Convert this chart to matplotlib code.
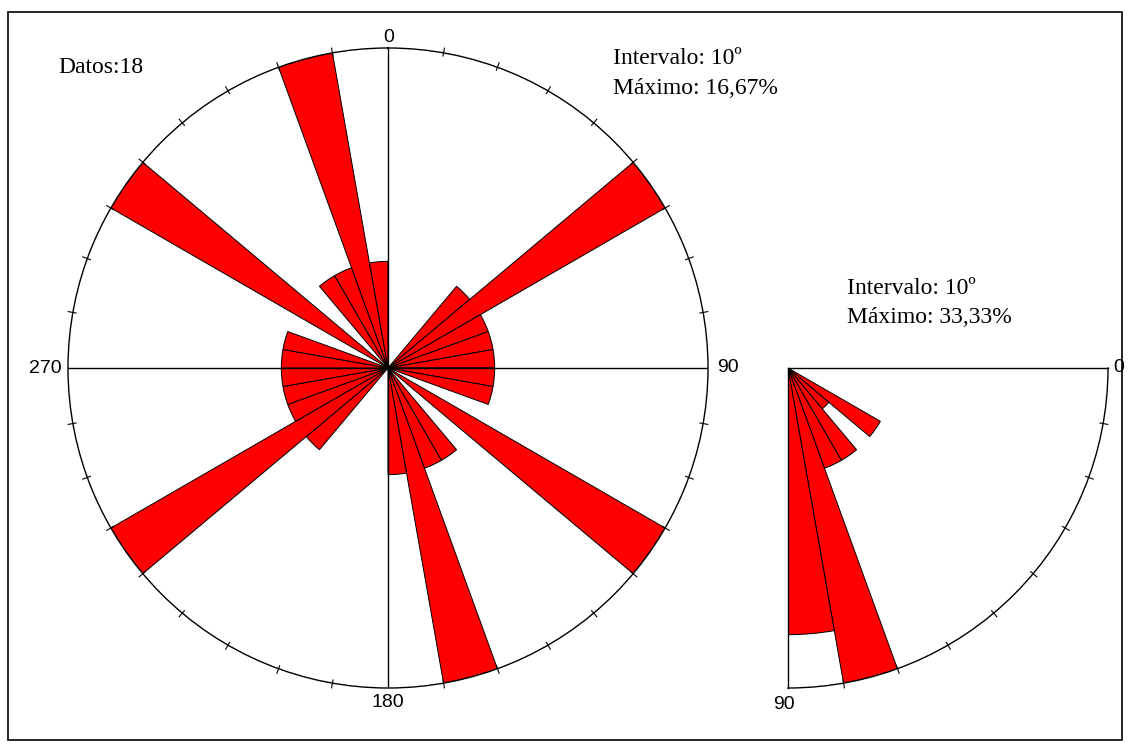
import numpy as np
import matplotlib
matplotlib.use('Agg')
import matplotlib.pyplot as plt

# rose diagram data (10 degree classes, 18 measurements)
n_data = 18
interval = 10

# strike classes (0-180, mirrored to 180-360) and counts
strike_bins = [40, 50, 60, 70, 80, 90, 100, 120, 140, 150, 160, 170]
strike_counts = [1, 3, 1, 1, 1, 1, 1, 3, 1, 1, 3, 1]

# dip classes (0-90) and counts
dip_bins = [30, 40, 50, 60, 70, 80]
dip_counts = [2, 1, 2, 2, 6, 5]

W, H = 1130, 748
serif = ['Liberation Serif', 'DejaVu Serif']
sans = ['Liberation Sans', 'DejaVu Sans']

strike_pct = np.array(strike_counts) / n_data * 100
dip_pct = np.array(dip_counts) / n_data * 100
strike_max = strike_pct.max()
dip_max = dip_pct.max()

fig = plt.figure(figsize=(W / 100, H / 100), dpi=100)
fig.patch.set_facecolor('white')

# frame around the whole picture
fig.add_artist(plt.Rectangle((8 / W, 8 / H), 1114 / W, 728 / H, transform=fig.transFigure,
                             fill=False, edgecolor='black', linewidth=1.2))


def style_polar(ax, rmax, tick_angles):
    ax.set_ylim(0, rmax)
    ax.set_yticks([])
    ax.yaxis.grid(False)
    ax.tick_params(axis='x', which='major', direction='out', length=6, width=1, color='black')
    ax.spines['polar'].set_linewidth(1)
    ax.spines['polar'].set_color('black')
    # small ticks every 10 degrees on the outer circle
    for a in tick_angles:
        t = np.radians(a)
        ax.plot([t, t], [rmax * 0.99, rmax * 1.015], color='black', lw=0.8,
                clip_on=False, zorder=5)


# left: strike rose, full circle, bidirectional
ax1 = fig.add_axes([68 / W, 60 / H, 640 / W, 640 / H], projection='polar')
ax1.set_theta_zero_location('N')
ax1.set_theta_direction(-1)
theta = np.radians(np.concatenate([strike_bins, np.array(strike_bins) + 180]) + interval / 2)
heights = np.concatenate([strike_pct, strike_pct])
ax1.bar(theta, heights, width=np.radians(interval), color='#ff0000',
        edgecolor='black', linewidth=0.7, align='center')
style_polar(ax1, strike_max, [a for a in range(10, 360, 10) if a % 90])
ax1.set_xticks(np.radians([0, 90, 180, 270]))
ax1.set_xticklabels([])
ax1.set_axisbelow(False)
ax1.xaxis.grid(True, which='major', color='black', linewidth=1)

lab = dict(fontsize=14, family=sans, textcoords='offset pixels', annotation_clip=False)
ax1.annotate('0', xy=(0, strike_max), xytext=(1, 6), ha='center', va='baseline', **lab)
ax1.annotate('90', xy=(np.pi / 2, strike_max), xytext=(9, 0), ha='left', va='center', **lab)
ax1.annotate('180', xy=(np.pi, strike_max), xytext=(0, -6), ha='center', va='top', **lab)
ax1.annotate('270', xy=(3 * np.pi / 2, strike_max), xytext=(-6, 0), ha='right', va='center', **lab)

# right: dip rose, quarter circle
ax2 = fig.add_axes([788 / W, 60 / H, 320 / W, 320 / H], projection='polar')
ax2.set_theta_zero_location('E')
ax2.set_theta_direction(-1)
ax2.set_thetamin(0)
ax2.set_thetamax(90)
ax2.bar(np.radians(np.array(dip_bins) + interval / 2), dip_pct, width=np.radians(interval),
        color='#ff0000', edgecolor='black', linewidth=0.7, align='center')
style_polar(ax2, dip_max, range(10, 90, 10))
ax2.set_xticks(np.radians([0, 90]))
ax2.set_xticklabels([])
ax2.xaxis.grid(False)
for s in ['start', 'end']:
    ax2.spines[s].set_linewidth(1)
    ax2.spines[s].set_color('black')
ax2.annotate('0', xy=(0, dip_max), xytext=(5, 0), ha='left', va='center', **lab)
ax2.annotate('90', xy=(np.pi / 2, dip_max), xytext=(-4, -8), ha='center', va='top', **lab)

# text blocks
txt = dict(fontsize=17, family=serif, va='baseline', ha='left')
fig.text(58 / W, 1 - 73 / H, 'Datos:%d' % n_data, **txt)
fig.text(613 / W, 1 - 64 / H, 'Intervalo: %dº' % interval, **txt)
fig.text(613 / W, 1 - 94 / H, 'Máximo: %s%%' % ('%.2f' % strike_max).replace('.', ','), **txt)
fig.text(847 / W, 1 - 294 / H, 'Intervalo: %dº' % interval, **txt)
fig.text(847 / W, 1 - 323 / H, 'Máximo: %s%%' % ('%.2f' % dip_max).replace('.', ','), **txt)

fig.savefig('out.png', dpi=100, facecolor='white')
